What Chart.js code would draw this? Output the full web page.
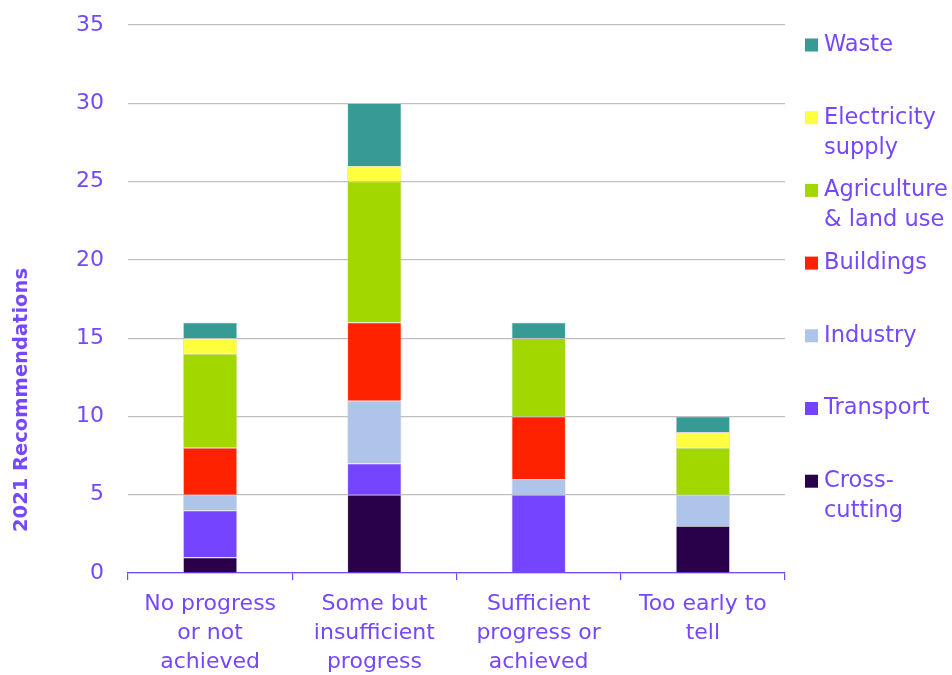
<!DOCTYPE html>
<html>
<head>
<meta charset="utf-8">
<script src="https://cdn.jsdelivr.net/npm/chart.js@4"></script>
<style>
  html, body { margin: 0; padding: 0; background: #fff; }
  #wrap { width: 952px; height: 675px; position: relative; }
</style>
</head>
<body>
<div id="wrap"><canvas id="chartCanvas" width="952" height="675"></canvas></div>
<script>
// Stacked bars: 2021 recommendations by progress status and sector.

const categories = [
  ['No progress', 'or not', 'achieved'],
  ['Some but', 'insufficient', 'progress'],
  ['Sufficient', 'progress or', 'achieved'],
  ['Too early to', 'tell']
];

const sectors = ['Cross-cutting', 'Transport', 'Industry', 'Buildings', 'Agriculture & land use', 'Electricity supply', 'Waste'];
const legendLines = [['Cross-', 'cutting'], ['Transport'], ['Industry'], ['Buildings'], ['Agriculture', '& land use'], ['Electricity', 'supply'], ['Waste']];
const sectorColors = ['#29004a', '#7444ff', '#aec5e9', '#ff2200', '#a2d700', '#ffff3f', '#369a95'];

const crossCutting = [1, 5, 0, 3];
const transport    = [3, 2, 5, 0];
const industry     = [1, 4, 1, 2];
const buildings    = [3, 5, 4, 0];
const agriculture  = [6, 9, 5, 3];
const electricity  = [1, 1, 0, 1];
const waste        = [1, 4, 1, 1];

const yTicks = [0, 5, 10, 15, 20, 25, 30, 35];
const yTitle = '2021 Recommendations';

const seriesValues = [crossCutting, transport, industry, buildings, agriculture, electricity, waste];

const TEXT = '#7547ff';
const FONT = "'DejaVu Sans', sans-serif";

const datasets = sectors.map((name, i) => ({
  label: name,
  data: seriesValues[i],
  backgroundColor: sectorColors[i],
  borderColor: 'rgba(200,200,210,0.7)',
  borderWidth: 0.8,
  barPercentage: 0.33,
  categoryPercentage: 1
}));

// right-hand legend, drawn top-down from Waste to Cross-cutting,
// plus the y title which sits low on the axis
const sideLegend = {
  id: 'sideLegend',
  afterDraw(chart) {
    const ctx = chart.ctx;
    const area = chart.chartArea;
    const x0 = area.right + 20;
    const top = area.top + 20;
    const step = 72.7;
    ctx.save();
    ctx.font = '22.5px ' + FONT;
    ctx.textBaseline = 'middle';
    ctx.textAlign = 'left';
    const n = chart.data.datasets.length;
    for (let k = 0; k < n; k++) {
      const i = n - 1 - k;
      const y = top + k * step;
      ctx.fillStyle = sectorColors[i];
      ctx.fillRect(x0, y - 6.5, 13, 13);
      ctx.fillStyle = TEXT;
      legendLines[i].forEach((line, j) => {
        ctx.fillText(line, x0 + 19, y + j * 30);
      });
    }

    ctx.translate(22, 400);
    ctx.rotate(-Math.PI / 2);
    ctx.font = 'bold 19.5px ' + FONT;
    ctx.textAlign = 'center';
    ctx.fillText(yTitle, 0, 0);
    ctx.restore();
  }
};

new Chart(document.getElementById('chartCanvas'), {
  type: 'bar',
  data: { labels: categories, datasets },
  options: {
    responsive: false,
    animation: false,
    layout: { padding: { top: 25, right: 167, left: 0, bottom: 0 } },
    plugins: {
      legend: { display: false },
      tooltip: { enabled: false }
    },
    scales: {
      x: {
        stacked: true,
        border: { display: true, color: TEXT, width: 1.2 },
        grid: { display: true, drawOnChartArea: false, drawTicks: true, tickLength: 7, color: TEXT, lineWidth: 1.2 },
        ticks: { color: TEXT, font: { family: FONT, size: 22, lineHeight: 1.32 }, padding: 10, maxRotation: 0, autoSkip: false },
        afterFit(scale) { scale.height = 102; }
      },
      y: {
        stacked: true,
        min: 0,
        max: 35,
        afterBuildTicks(scale) { scale.ticks = yTicks.map(v => ({ value: v })); },
        border: { display: false },
        grid: { color: '#bfbfbf', lineWidth: 1.2, drawTicks: false },
        ticks: { color: TEXT, font: { family: FONT, size: 22 }, padding: 24 },
        afterFit(scale) {
          scale.width = 128;
          // let the top label overhang instead of pushing the plot down
          scale.paddingTop = 0;
          scale.paddingBottom = 0;
        }
      }
    }
  },
  plugins: [sideLegend]
});
</script>
</body>
</html>
